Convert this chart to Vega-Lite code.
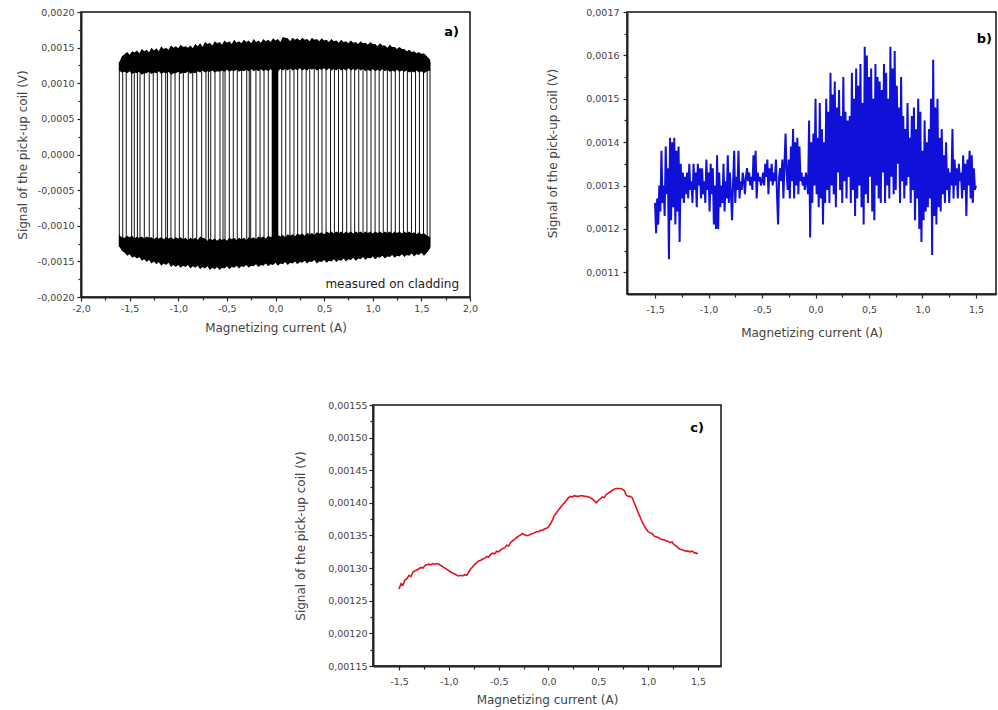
{
"$schema": "https://vega.github.io/schema/vega-lite/v6.json",
"background": "white",
"padding": {"left": 15, "top": 6, "right": 0, "bottom": 0},
"spacing": 59,
"vconcat": [
{"hconcat": [
{
"width": 389, "height": 285,
"encoding": {
"x": {"field": "x", "type": "quantitative", "title": "Magnetizing current (A)", "scale": {"domain": [-2, 2], "nice": false, "zero": false},
 "axis": {"values": [-2,-1.75,-1.5,-1.25,-1,-0.75,-0.5,-0.25,0,0.25,0.5,0.75,1,1.25,1.5,1.75,2],
  "labelExpr": "abs(datum.value*2-round(datum.value*2))<0.001 ? replace(replace(format(datum.value,'.1f'),'.',','),'\u2212','-') : ''",
  "tickSize": {"condition": {"test": "abs(datum.value*2-round(datum.value*2))<0.001", "value": 4}, "value": 3},
  "labelPadding": 2, "titlePadding": 10}},
"y": {"field": "y", "type": "quantitative", "title": "Signal of the pick-up coil (V)", "scale": {"domain": [-0.002, 0.002], "nice": false, "zero": false},
 "axis": {"values": [-0.002,-0.00175,-0.0015,-0.00125,-0.001,-0.00075,-0.0005,-0.00025,0,0.00025,0.0005,0.00075,0.001,0.00125,0.0015,0.00175,0.002],
  "labelExpr": "abs(datum.value*2000-round(datum.value*2000))<0.001 ? replace(replace(format(datum.value,'.4f'),'.',','),'\u2212','-') : ''",
  "tickSize": {"condition": {"test": "abs(datum.value*2000-round(datum.value*2000))<0.001", "value": 4}, "value": 3},
  "labelPadding": 3, "titlePadding": 8}}
},
"layer": [
{"data": {"values": [
{"x":-1.606,"y":0.0013,"y2":-0.0013},{"x":-1.571,"y":0.00125,"y2":-0.00125},{"x":-1.535,"y":0.00125,"y2":-0.00125},{"x":-1.479,"y":0.00125,"y2":-0.00125},{"x":-1.452,"y":0.00125,"y2":-0.00125},{"x":-1.42,"y":0.00125,"y2":-0.00125},{"x":-1.393,"y":0.00125,"y2":-0.00125},{"x":-1.349,"y":0.00125,"y2":-0.00125},{"x":-1.298,"y":0.00125,"y2":-0.00125},{"x":-1.257,"y":0.00125,"y2":-0.00125},{"x":-1.215,"y":0.00125,"y2":-0.00125},{"x":-1.17,"y":0.00125,"y2":-0.00125},{"x":-1.129,"y":0.00125,"y2":-0.00125},{"x":-1.11,"y":0.00125,"y2":-0.00125},{"x":-1.075,"y":0.00125,"y2":-0.00125},{"x":-1.033,"y":0.00125,"y2":-0.00125},{"x":-0.989,"y":0.00125,"y2":-0.00125},{"x":-0.948,"y":0.00125,"y2":-0.00125},{"x":-0.897,"y":0.00125,"y2":-0.00125},{"x":-0.851,"y":0.00125,"y2":-0.00125},{"x":-0.81,"y":0.00125,"y2":-0.00125},{"x":-0.759,"y":0.00125,"y2":-0.00125},{"x":-0.715,"y":0.00125,"y2":-0.00125},{"x":-0.69,"y":0.00125,"y2":-0.00125},{"x":-0.666,"y":0.00125,"y2":-0.00125},{"x":-0.622,"y":0.00125,"y2":-0.00125},{"x":-0.571,"y":0.00125,"y2":-0.00125},{"x":-0.54,"y":0.00125,"y2":-0.00125},{"x":-0.519,"y":0.00125,"y2":-0.00125},{"x":-0.475,"y":0.00125,"y2":-0.00125},{"x":-0.434,"y":0.00125,"y2":-0.00125},{"x":-0.393,"y":0.00125,"y2":-0.00125},{"x":-0.348,"y":0.00125,"y2":-0.00125},{"x":-0.296,"y":0.00125,"y2":-0.00125},{"x":-0.27,"y":0.00125,"y2":-0.00125},{"x":-0.255,"y":0.00125,"y2":-0.00125},{"x":-0.201,"y":0.00125,"y2":-0.00125},{"x":-0.159,"y":0.00125,"y2":-0.00125},{"x":-0.118,"y":0.00125,"y2":-0.00125},{"x":-0.074,"y":0.00125,"y2":-0.00125},
{"x":0.064,"y":0.00125,"y2":-0.00125},{"x":0.105,"y":0.00125,"y2":-0.00125},{"x":0.148,"y":0.00125,"y2":-0.00125},{"x":0.19,"y":0.00125,"y2":-0.00125},{"x":0.228,"y":0.00125,"y2":-0.00125},{"x":0.272,"y":0.00125,"y2":-0.00125},{"x":0.315,"y":0.00125,"y2":-0.00125},{"x":0.352,"y":0.00125,"y2":-0.00125},{"x":0.398,"y":0.00125,"y2":-0.00125},{"x":0.44,"y":0.00125,"y2":-0.00125},{"x":0.478,"y":0.00125,"y2":-0.00125},{"x":0.52,"y":0.00125,"y2":-0.00125},{"x":0.566,"y":0.00125,"y2":-0.00125},{"x":0.606,"y":0.00125,"y2":-0.00125},{"x":0.648,"y":0.00125,"y2":-0.00125},{"x":0.69,"y":0.00125,"y2":-0.00125},{"x":0.732,"y":0.00125,"y2":-0.00125},{"x":0.775,"y":0.00125,"y2":-0.00125},{"x":0.814,"y":0.00125,"y2":-0.00125},{"x":0.856,"y":0.00125,"y2":-0.00125},{"x":0.9,"y":0.00125,"y2":-0.00125},{"x":0.94,"y":0.00125,"y2":-0.00125},{"x":0.982,"y":0.00125,"y2":-0.00125},{"x":1.024,"y":0.00125,"y2":-0.00125},{"x":1.066,"y":0.00125,"y2":-0.00125},{"x":1.108,"y":0.00125,"y2":-0.00125},{"x":1.15,"y":0.00125,"y2":-0.00125},{"x":1.19,"y":0.00125,"y2":-0.00125},{"x":1.232,"y":0.00125,"y2":-0.00125},{"x":1.274,"y":0.00125,"y2":-0.00125},{"x":1.316,"y":0.00125,"y2":-0.00125},{"x":1.356,"y":0.00125,"y2":-0.00125},{"x":1.398,"y":0.00125,"y2":-0.00125},{"x":1.44,"y":0.00125,"y2":-0.00125},{"x":1.48,"y":0.00125,"y2":-0.00125},{"x":1.522,"y":0.00125,"y2":-0.00125},{"x":1.56,"y":0.00125,"y2":-0.00125},{"x":1.589,"y":0.0013,"y2":-0.0013}
]}, "mark": {"type": "rule", "color": "#111", "strokeWidth": 1}, "encoding": {"y2": {"field": "y2"}}},
{"data": {"values": [
{"band":"top","x":-1.61,"y":0.00128,"y2":0.00118},{"band":"top","x":-1.58,"y":0.00138,"y2":0.00115},{"band":"top","x":-1.55,"y":0.00141,"y2":0.00116},{"band":"top","x":-1.5,"y":0.0014,"y2":0.00117},{"band":"top","x":-1.45,"y":0.00143,"y2":0.00115},{"band":"top","x":-1.4,"y":0.00142,"y2":0.00116},{"band":"top","x":-1.35,"y":0.00145,"y2":0.00114},{"band":"top","x":-1.3,"y":0.00143,"y2":0.00116},{"band":"top","x":-1.25,"y":0.00146,"y2":0.00115},{"band":"top","x":-1.2,"y":0.00145,"y2":0.00117},{"band":"top","x":-1.15,"y":0.00148,"y2":0.00115},{"band":"top","x":-1.1,"y":0.00147,"y2":0.00116},{"band":"top","x":-1.05,"y":0.0015,"y2":0.00114},{"band":"top","x":-1.0,"y":0.00149,"y2":0.00116},{"band":"top","x":-0.95,"y":0.00151,"y2":0.00115},{"band":"top","x":-0.9,"y":0.0015,"y2":0.00117},{"band":"top","x":-0.85,"y":0.00149,"y2":0.00115},{"band":"top","x":-0.8,"y":0.00152,"y2":0.00117},{"band":"top","x":-0.75,"y":0.00151,"y2":0.00118},{"band":"top","x":-0.7,"y":0.00155,"y2":0.00117},{"band":"top","x":-0.65,"y":0.00153,"y2":0.00118},{"band":"top","x":-0.6,"y":0.00156,"y2":0.00117},{"band":"top","x":-0.55,"y":0.00154,"y2":0.00118},{"band":"top","x":-0.5,"y":0.00157,"y2":0.00119},{"band":"top","x":-0.45,"y":0.00155,"y2":0.00118},{"band":"top","x":-0.4,"y":0.00157,"y2":0.00119},{"band":"top","x":-0.35,"y":0.00156,"y2":0.00118},{"band":"top","x":-0.3,"y":0.00158,"y2":0.00119},{"band":"top","x":-0.25,"y":0.00156,"y2":0.0012},{"band":"top","x":-0.2,"y":0.00158,"y2":0.00119},{"band":"top","x":-0.15,"y":0.00157,"y2":0.0012},{"band":"top","x":-0.1,"y":0.00159,"y2":0.00119},{"band":"top","x":-0.05,"y":0.00158,"y2":0.0012},{"band":"top","x":0.0,"y":0.0016,"y2":0.00119},{"band":"top","x":0.05,"y":0.00158,"y2":0.0012},{"band":"top","x":0.1,"y":0.00164,"y2":0.0012},{"band":"top","x":0.15,"y":0.00159,"y2":0.00121},{"band":"top","x":0.2,"y":0.00161,"y2":0.0012},{"band":"top","x":0.25,"y":0.0016,"y2":0.00121},{"band":"top","x":0.3,"y":0.00161,"y2":0.0012},{"band":"top","x":0.35,"y":0.00159,"y2":0.00121},{"band":"top","x":0.4,"y":0.00161,"y2":0.00121},{"band":"top","x":0.45,"y":0.00159,"y2":0.0012},{"band":"top","x":0.5,"y":0.0016,"y2":0.00121},{"band":"top","x":0.55,"y":0.00158,"y2":0.00121},{"band":"top","x":0.6,"y":0.00159,"y2":0.0012},{"band":"top","x":0.65,"y":0.00157,"y2":0.00121},{"band":"top","x":0.7,"y":0.00158,"y2":0.0012},{"band":"top","x":0.75,"y":0.00156,"y2":0.00121},{"band":"top","x":0.8,"y":0.00157,"y2":0.0012},{"band":"top","x":0.85,"y":0.00155,"y2":0.00121},{"band":"top","x":0.9,"y":0.00156,"y2":0.0012},{"band":"top","x":0.95,"y":0.00154,"y2":0.00119},{"band":"top","x":1.0,"y":0.00155,"y2":0.0012},{"band":"top","x":1.05,"y":0.00152,"y2":0.00119},{"band":"top","x":1.1,"y":0.00153,"y2":0.0012},{"band":"top","x":1.15,"y":0.0015,"y2":0.00119},{"band":"top","x":1.2,"y":0.00151,"y2":0.00118},{"band":"top","x":1.25,"y":0.00148,"y2":0.00119},{"band":"top","x":1.3,"y":0.00148,"y2":0.00118},{"band":"top","x":1.35,"y":0.00145,"y2":0.00118},{"band":"top","x":1.4,"y":0.00144,"y2":0.00117},{"band":"top","x":1.45,"y":0.00142,"y2":0.00118},{"band":"top","x":1.5,"y":0.00141,"y2":0.00117},{"band":"top","x":1.55,"y":0.00139,"y2":0.00116},{"band":"top","x":1.59,"y":0.00133,"y2":0.00118},
{"band":"top","x":-1.525,"y":0.00144,"y2":0.00114},{"band":"top","x":-1.475,"y":0.00145,"y2":0.00113},{"band":"top","x":-1.425,"y":0.00146,"y2":0.00114},{"band":"top","x":-1.375,"y":0.00148,"y2":0.00112},{"band":"top","x":-1.325,"y":0.00147,"y2":0.00114},{"band":"top","x":-1.275,"y":0.0015,"y2":0.00113},{"band":"top","x":-1.225,"y":0.00149,"y2":0.00114},{"band":"top","x":-1.175,"y":0.00152,"y2":0.00113},{"band":"top","x":-1.125,"y":0.0015,"y2":0.00114},{"band":"top","x":-1.075,"y":0.00153,"y2":0.00112},{"band":"top","x":-1.025,"y":0.00152,"y2":0.00114},{"band":"top","x":-0.975,"y":0.00154,"y2":0.00113},{"band":"top","x":-0.925,"y":0.00152,"y2":0.00114},{"band":"top","x":-0.875,"y":0.00153,"y2":0.00113},{"band":"top","x":-0.825,"y":0.00155,"y2":0.00114},{"band":"top","x":-0.775,"y":0.00156,"y2":0.00115},{"band":"top","x":-0.725,"y":0.00158,"y2":0.00115},{"band":"top","x":-0.675,"y":0.00157,"y2":0.00116},{"band":"top","x":-0.625,"y":0.00159,"y2":0.00115},{"band":"top","x":-0.575,"y":0.00158,"y2":0.00116},{"band":"top","x":-0.525,"y":0.0016,"y2":0.00116},{"band":"top","x":-0.475,"y":0.00159,"y2":0.00116},{"band":"top","x":-0.425,"y":0.00161,"y2":0.00117},{"band":"top","x":-0.375,"y":0.00159,"y2":0.00116},{"band":"top","x":-0.325,"y":0.00161,"y2":0.00117},{"band":"top","x":-0.275,"y":0.0016,"y2":0.00117},{"band":"top","x":-0.225,"y":0.00162,"y2":0.00117},{"band":"top","x":-0.175,"y":0.0016,"y2":0.00117},{"band":"top","x":-0.125,"y":0.00162,"y2":0.00117},{"band":"top","x":-0.075,"y":0.00161,"y2":0.00117},{"band":"top","x":-0.025,"y":0.00163,"y2":0.00117},{"band":"top","x":0.025,"y":0.00162,"y2":0.00117},{"band":"top","x":0.075,"y":0.00165,"y2":0.00118},{"band":"top","x":0.125,"y":0.00163,"y2":0.00118},{"band":"top","x":0.175,"y":0.00164,"y2":0.00118},{"band":"top","x":0.225,"y":0.00163,"y2":0.00118},{"band":"top","x":0.275,"y":0.00164,"y2":0.00118},{"band":"top","x":0.325,"y":0.00162,"y2":0.00118},{"band":"top","x":0.375,"y":0.00164,"y2":0.00119},{"band":"top","x":0.425,"y":0.00162,"y2":0.00118},{"band":"top","x":0.475,"y":0.00163,"y2":0.00119},{"band":"top","x":0.525,"y":0.00161,"y2":0.00118},{"band":"top","x":0.575,"y":0.00162,"y2":0.00118},{"band":"top","x":0.625,"y":0.0016,"y2":0.00118},{"band":"top","x":0.675,"y":0.00161,"y2":0.00118},{"band":"top","x":0.725,"y":0.00159,"y2":0.00118},{"band":"top","x":0.775,"y":0.0016,"y2":0.00118},{"band":"top","x":0.825,"y":0.00158,"y2":0.00118},{"band":"top","x":0.875,"y":0.00159,"y2":0.00118},{"band":"top","x":0.925,"y":0.00157,"y2":0.00117},{"band":"top","x":0.975,"y":0.00158,"y2":0.00117},{"band":"top","x":1.025,"y":0.00155,"y2":0.00117},{"band":"top","x":1.075,"y":0.00156,"y2":0.00117},{"band":"top","x":1.125,"y":0.00153,"y2":0.00117},{"band":"top","x":1.175,"y":0.00154,"y2":0.00116},{"band":"top","x":1.225,"y":0.00151,"y2":0.00116},{"band":"top","x":1.275,"y":0.00151,"y2":0.00116},{"band":"top","x":1.325,"y":0.00148,"y2":0.00116},{"band":"top","x":1.375,"y":0.00147,"y2":0.00115},{"band":"top","x":1.425,"y":0.00145,"y2":0.00115},{"band":"top","x":1.475,"y":0.00144,"y2":0.00115},{"band":"top","x":1.525,"y":0.00142,"y2":0.00114},
{"band":"bot","x":-1.61,"y":-0.00113,"y2":-0.00128},{"band":"bot","x":-1.58,"y":-0.00116,"y2":-0.00135},{"band":"bot","x":-1.55,"y":-0.00117,"y2":-0.00138},{"band":"bot","x":-1.5,"y":-0.00116,"y2":-0.0014},{"band":"bot","x":-1.45,"y":-0.00118,"y2":-0.00143},{"band":"bot","x":-1.4,"y":-0.00117,"y2":-0.00144},{"band":"bot","x":-1.35,"y":-0.00118,"y2":-0.00147},{"band":"bot","x":-1.3,"y":-0.00117,"y2":-0.00148},{"band":"bot","x":-1.25,"y":-0.00119,"y2":-0.0015},{"band":"bot","x":-1.2,"y":-0.00118,"y2":-0.00151},{"band":"bot","x":-1.15,"y":-0.00119,"y2":-0.00153},{"band":"bot","x":-1.1,"y":-0.00118,"y2":-0.00152},{"band":"bot","x":-1.05,"y":-0.00119,"y2":-0.00155},{"band":"bot","x":-1.0,"y":-0.00118,"y2":-0.00155},{"band":"bot","x":-0.95,"y":-0.00119,"y2":-0.00156},{"band":"bot","x":-0.9,"y":-0.0012,"y2":-0.00155},{"band":"bot","x":-0.85,"y":-0.00119,"y2":-0.00157},{"band":"bot","x":-0.8,"y":-0.0012,"y2":-0.00156},{"band":"bot","x":-0.75,"y":-0.00117,"y2":-0.00158},{"band":"bot","x":-0.7,"y":-0.00121,"y2":-0.00157},{"band":"bot","x":-0.65,"y":-0.0012,"y2":-0.00159},{"band":"bot","x":-0.6,"y":-0.00121,"y2":-0.00158},{"band":"bot","x":-0.55,"y":-0.0012,"y2":-0.00159},{"band":"bot","x":-0.5,"y":-0.00121,"y2":-0.00157},{"band":"bot","x":-0.45,"y":-0.00119,"y2":-0.00158},{"band":"bot","x":-0.4,"y":-0.0012,"y2":-0.00156},{"band":"bot","x":-0.35,"y":-0.00119,"y2":-0.00157},{"band":"bot","x":-0.3,"y":-0.0012,"y2":-0.00155},{"band":"bot","x":-0.25,"y":-0.00118,"y2":-0.00156},{"band":"bot","x":-0.2,"y":-0.00119,"y2":-0.00154},{"band":"bot","x":-0.15,"y":-0.00117,"y2":-0.00155},{"band":"bot","x":-0.1,"y":-0.00118,"y2":-0.00153},{"band":"bot","x":-0.05,"y":-0.00116,"y2":-0.00154},{"band":"bot","x":0.0,"y":-0.00117,"y2":-0.00152},{"band":"bot","x":0.05,"y":-0.00115,"y2":-0.00153},{"band":"bot","x":0.1,"y":-0.00116,"y2":-0.00151},{"band":"bot","x":0.15,"y":-0.00114,"y2":-0.00152},{"band":"bot","x":0.2,"y":-0.00115,"y2":-0.0015},{"band":"bot","x":0.25,"y":-0.00113,"y2":-0.00151},{"band":"bot","x":0.3,"y":-0.00114,"y2":-0.00149},{"band":"bot","x":0.35,"y":-0.00112,"y2":-0.0015},{"band":"bot","x":0.4,"y":-0.00113,"y2":-0.00148},{"band":"bot","x":0.45,"y":-0.00111,"y2":-0.0015},{"band":"bot","x":0.5,"y":-0.00112,"y2":-0.00148},{"band":"bot","x":0.55,"y":-0.0011,"y2":-0.00149},{"band":"bot","x":0.6,"y":-0.00111,"y2":-0.00147},{"band":"bot","x":0.65,"y":-0.0011,"y2":-0.00148},{"band":"bot","x":0.7,"y":-0.00111,"y2":-0.00146},{"band":"bot","x":0.75,"y":-0.0011,"y2":-0.00147},{"band":"bot","x":0.8,"y":-0.00111,"y2":-0.00145},{"band":"bot","x":0.85,"y":-0.0011,"y2":-0.00146},{"band":"bot","x":0.9,"y":-0.00111,"y2":-0.00144},{"band":"bot","x":0.95,"y":-0.0011,"y2":-0.00145},{"band":"bot","x":1.0,"y":-0.00111,"y2":-0.00143},{"band":"bot","x":1.05,"y":-0.0011,"y2":-0.00144},{"band":"bot","x":1.1,"y":-0.00111,"y2":-0.00142},{"band":"bot","x":1.15,"y":-0.0011,"y2":-0.00143},{"band":"bot","x":1.2,"y":-0.00111,"y2":-0.00141},{"band":"bot","x":1.25,"y":-0.0011,"y2":-0.00142},{"band":"bot","x":1.3,"y":-0.00111,"y2":-0.0014},{"band":"bot","x":1.35,"y":-0.0011,"y2":-0.00141},{"band":"bot","x":1.4,"y":-0.00111,"y2":-0.00139},{"band":"bot","x":1.45,"y":-0.00112,"y2":-0.0014},{"band":"bot","x":1.5,"y":-0.00112,"y2":-0.00138},{"band":"bot","x":1.55,"y":-0.00113,"y2":-0.00139},{"band":"bot","x":1.59,"y":-0.00116,"y2":-0.00132},
{"band":"bot","x":-1.525,"y":-0.00114,"y2":-0.00142},{"band":"bot","x":-1.475,"y":-0.00114,"y2":-0.00145},{"band":"bot","x":-1.425,"y":-0.00115,"y2":-0.00146},{"band":"bot","x":-1.375,"y":-0.00115,"y2":-0.00149},{"band":"bot","x":-1.325,"y":-0.00115,"y2":-0.00151},{"band":"bot","x":-1.275,"y":-0.00116,"y2":-0.00153},{"band":"bot","x":-1.225,"y":-0.00116,"y2":-0.00154},{"band":"bot","x":-1.175,"y":-0.00116,"y2":-0.00156},{"band":"bot","x":-1.125,"y":-0.00116,"y2":-0.00155},{"band":"bot","x":-1.075,"y":-0.00116,"y2":-0.00158},{"band":"bot","x":-1.025,"y":-0.00116,"y2":-0.00158},{"band":"bot","x":-0.975,"y":-0.00116,"y2":-0.00159},{"band":"bot","x":-0.925,"y":-0.00117,"y2":-0.00158},{"band":"bot","x":-0.875,"y":-0.00117,"y2":-0.0016},{"band":"bot","x":-0.825,"y":-0.00117,"y2":-0.00159},{"band":"bot","x":-0.775,"y":-0.00115,"y2":-0.00161},{"band":"bot","x":-0.725,"y":-0.00118,"y2":-0.0016},{"band":"bot","x":-0.675,"y":-0.00118,"y2":-0.00162},{"band":"bot","x":-0.625,"y":-0.00118,"y2":-0.00161},{"band":"bot","x":-0.575,"y":-0.00118,"y2":-0.00162},{"band":"bot","x":-0.525,"y":-0.00118,"y2":-0.0016},{"band":"bot","x":-0.475,"y":-0.00117,"y2":-0.00161},{"band":"bot","x":-0.425,"y":-0.00117,"y2":-0.00159},{"band":"bot","x":-0.375,"y":-0.00117,"y2":-0.0016},{"band":"bot","x":-0.325,"y":-0.00117,"y2":-0.00158},{"band":"bot","x":-0.275,"y":-0.00116,"y2":-0.00159},{"band":"bot","x":-0.225,"y":-0.00116,"y2":-0.00157},{"band":"bot","x":-0.175,"y":-0.00115,"y2":-0.00158},{"band":"bot","x":-0.125,"y":-0.00115,"y2":-0.00156},{"band":"bot","x":-0.075,"y":-0.00114,"y2":-0.00157},{"band":"bot","x":-0.025,"y":-0.00114,"y2":-0.00155},{"band":"bot","x":0.025,"y":-0.00113,"y2":-0.00156},{"band":"bot","x":0.075,"y":-0.00113,"y2":-0.00154},{"band":"bot","x":0.125,"y":-0.00112,"y2":-0.00155},{"band":"bot","x":0.175,"y":-0.00112,"y2":-0.00153},{"band":"bot","x":0.225,"y":-0.00111,"y2":-0.00154},{"band":"bot","x":0.275,"y":-0.00111,"y2":-0.00152},{"band":"bot","x":0.325,"y":-0.0011,"y2":-0.00153},{"band":"bot","x":0.375,"y":-0.0011,"y2":-0.00151},{"band":"bot","x":0.425,"y":-0.00109,"y2":-0.00153},{"band":"bot","x":0.475,"y":-0.00109,"y2":-0.00151},{"band":"bot","x":0.525,"y":-0.00108,"y2":-0.00152},{"band":"bot","x":0.575,"y":-0.00108,"y2":-0.0015},{"band":"bot","x":0.625,"y":-0.00108,"y2":-0.00151},{"band":"bot","x":0.675,"y":-0.00108,"y2":-0.00149},{"band":"bot","x":0.725,"y":-0.00108,"y2":-0.0015},{"band":"bot","x":0.775,"y":-0.00108,"y2":-0.00148},{"band":"bot","x":0.825,"y":-0.00108,"y2":-0.00149},{"band":"bot","x":0.875,"y":-0.00108,"y2":-0.00147},{"band":"bot","x":0.925,"y":-0.00108,"y2":-0.00148},{"band":"bot","x":0.975,"y":-0.00108,"y2":-0.00146},{"band":"bot","x":1.025,"y":-0.00108,"y2":-0.00147},{"band":"bot","x":1.075,"y":-0.00108,"y2":-0.00145},{"band":"bot","x":1.125,"y":-0.00108,"y2":-0.00146},{"band":"bot","x":1.175,"y":-0.00108,"y2":-0.00144},{"band":"bot","x":1.225,"y":-0.00108,"y2":-0.00145},{"band":"bot","x":1.275,"y":-0.00108,"y2":-0.00143},{"band":"bot","x":1.325,"y":-0.00108,"y2":-0.00144},{"band":"bot","x":1.375,"y":-0.00108,"y2":-0.00142},{"band":"bot","x":1.425,"y":-0.00109,"y2":-0.00143},{"band":"bot","x":1.475,"y":-0.00109,"y2":-0.00141},{"band":"bot","x":1.525,"y":-0.0011,"y2":-0.00142}
]}, "mark": {"type": "area", "color": "#000", "opacity": 1}, "encoding": {"y2": {"field": "y2"}, "detail": {"field": "band"}}},
{"data": {"values": [{"x": -0.039, "x2": 0.029, "y": 0.0012, "y2": -0.0012}]}, "mark": {"type": "rect", "color": "#000"}, "encoding": {"x2": {"field": "x2"}, "y2": {"field": "y2"}}},
{"data": {"values": [{"x": 1.887, "y": 0.00172, "label": "a)"}]}, "mark": {"type": "text", "align": "right", "baseline": "middle", "fontWeight": "bold", "fontSize": 13, "color": "#000"}, "encoding": {"text": {"field": "label"}}},
{"data": {"values": [{"x": 1.887, "y": -0.00182, "label": "measured on cladding"}]}, "mark": {"type": "text", "align": "right", "baseline": "middle", "fontSize": 12, "color": "#222"}, "encoding": {"text": {"field": "label"}}}
]
},
{
"width": 369, "height": 282,
"encoding": {
"x": {"field": "x", "type": "quantitative", "title": "Magnetizing current (A)", "scale": {"domain": [-1.762, 1.687], "nice": false, "zero": false},
 "axis": {"values": [-1.5,-1.25,-1,-0.75,-0.5,-0.25,0,0.25,0.5,0.75,1,1.25,1.5],
  "labelExpr": "abs(datum.value*2-round(datum.value*2))<0.001 ? replace(replace(format(datum.value,'.1f'),'.',','),'\u2212','-') : ''",
  "tickSize": {"condition": {"test": "abs(datum.value*2-round(datum.value*2))<0.001", "value": 4}, "value": 3},
  "labelPadding": 6, "titlePadding": 14}},
"y": {"field": "y", "type": "quantitative", "title": "Signal of the pick-up coil (V)", "scale": {"domain": [0.00105, 0.0017], "nice": false, "zero": false},
 "axis": {"values": [0.0011,0.00115,0.0012,0.00125,0.0013,0.00135,0.0014,0.00145,0.0015,0.00155,0.0016,0.00165,0.0017],
  "labelExpr": "abs(datum.value*10000-round(datum.value*10000))<0.001 ? replace(format(datum.value,'.4f'),'.',',') : ''",
  "tickSize": {"condition": {"test": "abs(datum.value*10000-round(datum.value*10000))<0.001", "value": 4}, "value": 3},
  "labelPadding": 4, "titlePadding": 26}}
},
"layer": [
{"data": {"values": [
{"x":-1.5,"y":0.00126},{"x":-1.49,"y":0.00119},{"x":-1.48,"y":0.00127},{"x":-1.47,"y":0.00121},{"x":-1.46,"y":0.0013},{"x":-1.45,"y":0.00124},{"x":-1.44,"y":0.00138},{"x":-1.43,"y":0.00126},{"x":-1.42,"y":0.0013},{"x":-1.41,"y":0.00123},{"x":-1.4,"y":0.00139},{"x":-1.39,"y":0.00128},{"x":-1.38,"y":0.00134},{"x":-1.37,"y":0.00113},{"x":-1.36,"y":0.00141},{"x":-1.35,"y":0.00122},{"x":-1.34,"y":0.0014},{"x":-1.33,"y":0.00125},{"x":-1.32,"y":0.00141},{"x":-1.31,"y":0.00121},{"x":-1.3,"y":0.00138},{"x":-1.29,"y":0.00124},{"x":-1.28,"y":0.00139},{"x":-1.27,"y":0.00117},{"x":-1.26,"y":0.00135},{"x":-1.25,"y":0.00127},{"x":-1.24,"y":0.00133},{"x":-1.23,"y":0.00126},{"x":-1.22,"y":0.00132},{"x":-1.21,"y":0.00128},{"x":-1.2,"y":0.00133},{"x":-1.19,"y":0.00127},{"x":-1.18,"y":0.00135},{"x":-1.17,"y":0.00129},{"x":-1.16,"y":0.00131},{"x":-1.15,"y":0.00126},{"x":-1.14,"y":0.00135},{"x":-1.13,"y":0.00129},{"x":-1.12,"y":0.00133},{"x":-1.11,"y":0.00125},{"x":-1.1,"y":0.00135},{"x":-1.09,"y":0.0013},{"x":-1.08,"y":0.00134},{"x":-1.07,"y":0.00127},{"x":-1.06,"y":0.00134},{"x":-1.05,"y":0.00128},{"x":-1.04,"y":0.00131},{"x":-1.03,"y":0.00126},{"x":-1.02,"y":0.00136},{"x":-1.01,"y":0.00129},{"x":-1.0,"y":0.00133},{"x":-0.99,"y":0.00124},{"x":-0.98,"y":0.00135},{"x":-0.97,"y":0.00128},{"x":-0.96,"y":0.00134},{"x":-0.95,"y":0.00121},{"x":-0.94,"y":0.0013},{"x":-0.93,"y":0.0012},{"x":-0.92,"y":0.00137},{"x":-0.91,"y":0.0012},{"x":-0.9,"y":0.00133},{"x":-0.89,"y":0.00125},{"x":-0.88,"y":0.0013},{"x":-0.87,"y":0.00126},{"x":-0.86,"y":0.00135},{"x":-0.85,"y":0.00124},{"x":-0.84,"y":0.00131},{"x":-0.83,"y":0.00127},{"x":-0.82,"y":0.00137},{"x":-0.81,"y":0.00126},{"x":-0.8,"y":0.00133},{"x":-0.79,"y":0.00128},{"x":-0.78,"y":0.00122},{"x":-0.77,"y":0.00131},{"x":-0.76,"y":0.00138},{"x":-0.75,"y":0.00126},{"x":-0.74,"y":0.00132},{"x":-0.73,"y":0.00129},{"x":-0.72,"y":0.00138},{"x":-0.71,"y":0.00127},{"x":-0.7,"y":0.00131},{"x":-0.69,"y":0.00129},{"x":-0.68,"y":0.00133},{"x":-0.67,"y":0.00131},{"x":-0.66,"y":0.00128},{"x":-0.65,"y":0.00132},{"x":-0.64,"y":0.00134},{"x":-0.63,"y":0.00131},{"x":-0.62,"y":0.00133},{"x":-0.61,"y":0.0013},{"x":-0.6,"y":0.00132},{"x":-0.59,"y":0.00129},{"x":-0.58,"y":0.00137},{"x":-0.57,"y":0.00131},{"x":-0.56,"y":0.00138},{"x":-0.55,"y":0.00127},{"x":-0.54,"y":0.00133},{"x":-0.53,"y":0.00131},{"x":-0.52,"y":0.00132},{"x":-0.51,"y":0.0013},{"x":-0.5,"y":0.00131},{"x":-0.49,"y":0.00133},{"x":-0.48,"y":0.0013},{"x":-0.47,"y":0.00135},{"x":-0.46,"y":0.00132},{"x":-0.45,"y":0.00136},{"x":-0.44,"y":0.00128},{"x":-0.43,"y":0.00134},{"x":-0.42,"y":0.00131},{"x":-0.41,"y":0.00135},{"x":-0.4,"y":0.0013},{"x":-0.39,"y":0.00133},{"x":-0.38,"y":0.00131},{"x":-0.37,"y":0.00136},{"x":-0.36,"y":0.00128},{"x":-0.35,"y":0.00121},{"x":-0.34,"y":0.00132},{"x":-0.33,"y":0.00134},{"x":-0.32,"y":0.00131},{"x":-0.31,"y":0.00136},{"x":-0.3,"y":0.00127},{"x":-0.29,"y":0.00135},{"x":-0.28,"y":0.00142},{"x":-0.27,"y":0.00133},{"x":-0.26,"y":0.00129},{"x":-0.25,"y":0.00136},{"x":-0.24,"y":0.00127},{"x":-0.23,"y":0.00139},{"x":-0.22,"y":0.00131},{"x":-0.21,"y":0.00143},{"x":-0.2,"y":0.00127},{"x":-0.19,"y":0.0014},{"x":-0.18,"y":0.0013},{"x":-0.17,"y":0.00141},{"x":-0.16,"y":0.00128},{"x":-0.15,"y":0.00139},{"x":-0.14,"y":0.00131},{"x":-0.13,"y":0.00133},{"x":-0.12,"y":0.0013},{"x":-0.11,"y":0.00132},{"x":-0.1,"y":0.00129},{"x":-0.09,"y":0.00133},{"x":-0.08,"y":0.00131},{"x":-0.07,"y":0.00128},{"x":-0.06,"y":0.00145},{"x":-0.05,"y":0.00118},{"x":-0.04,"y":0.0014},{"x":-0.03,"y":0.00126},{"x":-0.02,"y":0.00142},{"x":-0.01,"y":0.0013},
{"x":0.0,"y":0.0015},{"x":0.01,"y":0.00128},{"x":0.02,"y":0.00141},{"x":0.03,"y":0.00125},{"x":0.04,"y":0.00149},{"x":0.05,"y":0.00127},{"x":0.06,"y":0.00143},{"x":0.07,"y":0.00121},{"x":0.08,"y":0.0014},{"x":0.09,"y":0.00126},{"x":0.1,"y":0.0015},{"x":0.11,"y":0.00129},{"x":0.12,"y":0.00147},{"x":0.13,"y":0.00126},{"x":0.14,"y":0.00156},{"x":0.15,"y":0.0013},{"x":0.16,"y":0.00151},{"x":0.17,"y":0.00128},{"x":0.18,"y":0.00154},{"x":0.19,"y":0.00125},{"x":0.2,"y":0.00148},{"x":0.21,"y":0.00133},{"x":0.22,"y":0.00152},{"x":0.23,"y":0.00129},{"x":0.24,"y":0.00146},{"x":0.25,"y":0.00126},{"x":0.26,"y":0.00155},{"x":0.27,"y":0.00131},{"x":0.28,"y":0.00147},{"x":0.29,"y":0.00127},{"x":0.3,"y":0.00145},{"x":0.31,"y":0.00132},{"x":0.32,"y":0.00146},{"x":0.33,"y":0.00126},{"x":0.34,"y":0.00156},{"x":0.35,"y":0.00129},{"x":0.36,"y":0.0015},{"x":0.37,"y":0.00123},{"x":0.38,"y":0.00157},{"x":0.39,"y":0.00127},{"x":0.4,"y":0.00153},{"x":0.41,"y":0.0013},{"x":0.42,"y":0.00158},{"x":0.43,"y":0.00125},{"x":0.44,"y":0.00149},{"x":0.45,"y":0.00121},{"x":0.46,"y":0.00162},{"x":0.47,"y":0.00128},{"x":0.48,"y":0.0016},{"x":0.49,"y":0.00126},{"x":0.5,"y":0.00155},{"x":0.51,"y":0.00132},{"x":0.52,"y":0.00157},{"x":0.53,"y":0.00124},{"x":0.54,"y":0.0015},{"x":0.55,"y":0.00122},{"x":0.56,"y":0.00158},{"x":0.57,"y":0.0013},{"x":0.58,"y":0.00155},{"x":0.59,"y":0.00127},{"x":0.6,"y":0.00154},{"x":0.61,"y":0.00126},{"x":0.62,"y":0.00152},{"x":0.63,"y":0.00133},{"x":0.64,"y":0.00158},{"x":0.65,"y":0.00126},{"x":0.66,"y":0.00156},{"x":0.67,"y":0.0013},{"x":0.68,"y":0.0015},{"x":0.69,"y":0.00127},{"x":0.7,"y":0.00162},{"x":0.71,"y":0.00132},{"x":0.72,"y":0.00157},{"x":0.73,"y":0.00128},{"x":0.74,"y":0.00161},{"x":0.75,"y":0.00129},{"x":0.76,"y":0.00153},{"x":0.77,"y":0.00135},{"x":0.78,"y":0.00148},{"x":0.79,"y":0.00126},{"x":0.8,"y":0.00155},{"x":0.81,"y":0.00131},{"x":0.82,"y":0.00146},{"x":0.83,"y":0.00127},{"x":0.84,"y":0.00143},{"x":0.85,"y":0.0013},{"x":0.86,"y":0.00149},{"x":0.87,"y":0.00132},{"x":0.88,"y":0.00141},{"x":0.89,"y":0.00126},{"x":0.9,"y":0.00146},{"x":0.91,"y":0.00129},{"x":0.92,"y":0.00148},{"x":0.93,"y":0.00122},{"x":0.94,"y":0.00143},{"x":0.95,"y":0.00127},{"x":0.96,"y":0.0015},{"x":0.97,"y":0.0012},{"x":0.98,"y":0.00147},{"x":0.99,"y":0.00117},{"x":1.0,"y":0.00138},{"x":1.01,"y":0.00122},{"x":1.02,"y":0.00145},{"x":1.03,"y":0.00124},{"x":1.04,"y":0.0014},{"x":1.05,"y":0.00125},{"x":1.06,"y":0.00143},{"x":1.07,"y":0.00127},{"x":1.08,"y":0.0015},{"x":1.09,"y":0.00114},{"x":1.1,"y":0.00159},{"x":1.11,"y":0.00123},{"x":1.12,"y":0.00148},{"x":1.13,"y":0.00121},{"x":1.14,"y":0.0015},{"x":1.15,"y":0.00125},{"x":1.16,"y":0.00141},{"x":1.17,"y":0.00124},{"x":1.18,"y":0.00143},{"x":1.19,"y":0.00128},{"x":1.2,"y":0.00137},{"x":1.21,"y":0.00126},{"x":1.22,"y":0.0014},{"x":1.23,"y":0.00129},{"x":1.24,"y":0.00134},{"x":1.25,"y":0.00126},{"x":1.26,"y":0.00133},{"x":1.27,"y":0.0013},{"x":1.28,"y":0.00143},{"x":1.29,"y":0.00127},{"x":1.3,"y":0.00136},{"x":1.31,"y":0.0013},{"x":1.32,"y":0.00134},{"x":1.33,"y":0.00127},{"x":1.34,"y":0.00135},{"x":1.35,"y":0.00131},{"x":1.36,"y":0.00133},{"x":1.37,"y":0.00127},{"x":1.38,"y":0.00137},{"x":1.39,"y":0.00129},{"x":1.4,"y":0.00135},{"x":1.41,"y":0.00123},{"x":1.42,"y":0.00136},{"x":1.43,"y":0.0013},{"x":1.44,"y":0.00138},{"x":1.45,"y":0.00127},{"x":1.46,"y":0.00137},{"x":1.47,"y":0.00126},{"x":1.48,"y":0.00134},{"x":1.49,"y":0.00129},{"x":1.5,"y":0.0013}
]}, "mark": {"type": "line", "color": "#1010d8", "strokeWidth": 2}},
{"data": {"values": [{"x": 1.65, "y": 0.001637, "label": "b)"}]}, "mark": {"type": "text", "align": "right", "baseline": "middle", "fontWeight": "bold", "fontSize": 13, "color": "#000"}, "encoding": {"text": {"field": "label"}}}
]
}
], "spacing": 67},
{"hconcat": [
{"width": 212, "height": 10, "view": {"stroke": null}, "data": {"values": []}, "mark": {"type": "point", "opacity": 0}},
{
"width": 348, "height": 261,
"encoding": {
"x": {"field": "x", "type": "quantitative", "title": "Magnetizing current (A)", "scale": {"domain": [-1.761, 1.731], "nice": false, "zero": false},
 "axis": {"values": [-1.5,-1.25,-1,-0.75,-0.5,-0.25,0,0.25,0.5,0.75,1,1.25,1.5],
  "labelExpr": "abs(datum.value*2-round(datum.value*2))<0.001 ? replace(replace(format(datum.value,'.1f'),'.',','),'\u2212','-') : ''",
  "tickSize": {"condition": {"test": "abs(datum.value*2-round(datum.value*2))<0.001", "value": 4}, "value": 3},
  "labelPadding": 6, "titlePadding": 9}},
"y": {"field": "y", "type": "quantitative", "title": "Signal of the pick-up coil (V)", "scale": {"domain": [0.00115, 0.00155], "nice": false, "zero": false},
 "axis": {"values": [0.00115,0.001175,0.0012,0.001225,0.00125,0.001275,0.0013,0.001325,0.00135,0.001375,0.0014,0.001425,0.00145,0.001475,0.0015,0.001525,0.00155],
  "labelExpr": "abs(datum.value*20000-round(datum.value*20000))<0.001 ? replace(format(datum.value,'.5f'),'.',',') : ''",
  "tickSize": {"condition": {"test": "abs(datum.value*20000-round(datum.value*20000))<0.001", "value": 4}, "value": 3},
  "labelPadding": 2, "titlePadding": 20}}
},
"layer": [
{"data": {"values": [
{"x":-1.5,"y":0.001268},{"x":-1.48,"y":0.001276},{"x":-1.46,"y":0.001274},{"x":-1.44,"y":0.001282},{"x":-1.42,"y":0.001284},{"x":-1.4,"y":0.001289},{"x":-1.38,"y":0.001287},{"x":-1.36,"y":0.001294},{"x":-1.34,"y":0.001296},{"x":-1.32,"y":0.001297},{"x":-1.3,"y":0.001299},{"x":-1.28,"y":0.001301},{"x":-1.26,"y":0.0013},{"x":-1.24,"y":0.001304},{"x":-1.22,"y":0.001305},{"x":-1.2,"y":0.001306},{"x":-1.18,"y":0.001305},{"x":-1.16,"y":0.001307},{"x":-1.14,"y":0.001306},{"x":-1.12,"y":0.001307},{"x":-1.1,"y":0.001306},{"x":-1.08,"y":0.001304},{"x":-1.06,"y":0.001302},{"x":-1.04,"y":0.0013},{"x":-1.02,"y":0.001298},{"x":-1.0,"y":0.001296},{"x":-0.98,"y":0.001294},{"x":-0.96,"y":0.001292},{"x":-0.94,"y":0.001291},{"x":-0.92,"y":0.001289},{"x":-0.9,"y":0.001288},{"x":-0.88,"y":0.001289},{"x":-0.86,"y":0.001288},{"x":-0.84,"y":0.00129},{"x":-0.82,"y":0.001289},{"x":-0.8,"y":0.001294},{"x":-0.78,"y":0.001299},{"x":-0.76,"y":0.001302},{"x":-0.74,"y":0.001306},{"x":-0.72,"y":0.001308},{"x":-0.7,"y":0.001311},{"x":-0.68,"y":0.001312},{"x":-0.66,"y":0.001314},{"x":-0.64,"y":0.001315},{"x":-0.62,"y":0.001318},{"x":-0.6,"y":0.001317},{"x":-0.58,"y":0.001321},{"x":-0.56,"y":0.001323},{"x":-0.54,"y":0.001322},{"x":-0.52,"y":0.001326},{"x":-0.5,"y":0.001325},{"x":-0.48,"y":0.001328},{"x":-0.46,"y":0.00133},{"x":-0.44,"y":0.001331},{"x":-0.42,"y":0.001335},{"x":-0.4,"y":0.001334},{"x":-0.38,"y":0.001339},{"x":-0.36,"y":0.001342},{"x":-0.34,"y":0.001344},{"x":-0.32,"y":0.001347},{"x":-0.3,"y":0.001349},{"x":-0.28,"y":0.001351},{"x":-0.26,"y":0.001353},{"x":-0.24,"y":0.001351},{"x":-0.22,"y":0.00135},{"x":-0.2,"y":0.00135},{"x":-0.18,"y":0.001352},{"x":-0.16,"y":0.001353},{"x":-0.14,"y":0.001354},{"x":-0.12,"y":0.001356},{"x":-0.1,"y":0.001356},{"x":-0.08,"y":0.001358},{"x":-0.06,"y":0.001358},{"x":-0.04,"y":0.00136},{"x":-0.02,"y":0.001361},{"x":0.0,"y":0.001363},{"x":0.02,"y":0.001368},{"x":0.04,"y":0.001374},{"x":0.06,"y":0.001381},{"x":0.08,"y":0.001385},{"x":0.1,"y":0.001389},{"x":0.12,"y":0.001393},{"x":0.14,"y":0.001397},{"x":0.16,"y":0.0014},{"x":0.18,"y":0.001404},{"x":0.2,"y":0.001408},{"x":0.22,"y":0.00141},{"x":0.24,"y":0.001409},{"x":0.26,"y":0.001411},{"x":0.28,"y":0.00141},{"x":0.3,"y":0.00141},{"x":0.32,"y":0.001411},{"x":0.34,"y":0.001411},{"x":0.36,"y":0.00141},{"x":0.38,"y":0.00141},{"x":0.4,"y":0.001409},{"x":0.42,"y":0.001408},{"x":0.44,"y":0.001406},{"x":0.46,"y":0.001403},{"x":0.48,"y":0.0014},{"x":0.5,"y":0.001404},{"x":0.52,"y":0.001406},{"x":0.54,"y":0.001409},{"x":0.56,"y":0.001408},{"x":0.58,"y":0.001413},{"x":0.6,"y":0.001415},{"x":0.62,"y":0.001417},{"x":0.64,"y":0.001419},{"x":0.66,"y":0.001421},{"x":0.68,"y":0.001422},{"x":0.7,"y":0.001422},{"x":0.72,"y":0.001422},{"x":0.74,"y":0.001421},{"x":0.76,"y":0.001419},{"x":0.78,"y":0.001412},{"x":0.8,"y":0.00141},{"x":0.82,"y":0.00141},{"x":0.84,"y":0.001408},{"x":0.86,"y":0.0014},{"x":0.88,"y":0.001393},{"x":0.9,"y":0.001385},{"x":0.92,"y":0.001378},{"x":0.94,"y":0.001371},{"x":0.96,"y":0.001365},{"x":0.98,"y":0.00136},{"x":1.0,"y":0.001356},{"x":1.02,"y":0.001354},{"x":1.04,"y":0.001353},{"x":1.06,"y":0.001349},{"x":1.08,"y":0.001348},{"x":1.1,"y":0.001347},{"x":1.12,"y":0.001345},{"x":1.14,"y":0.001344},{"x":1.16,"y":0.001343},{"x":1.18,"y":0.001342},{"x":1.2,"y":0.001341},{"x":1.22,"y":0.001339},{"x":1.24,"y":0.00134},{"x":1.26,"y":0.001336},{"x":1.28,"y":0.001334},{"x":1.3,"y":0.001331},{"x":1.32,"y":0.001329},{"x":1.34,"y":0.001328},{"x":1.36,"y":0.001327},{"x":1.38,"y":0.001326},{"x":1.4,"y":0.001326},{"x":1.42,"y":0.001325},{"x":1.44,"y":0.001326},{"x":1.46,"y":0.001324},{"x":1.48,"y":0.001323},{"x":1.5,"y":0.001322}
]}, "mark": {"type": "line", "color": "#e3131f", "strokeWidth": 1.6}},
{"data": {"values": [{"x": 1.56, "y": 0.001515, "label": "c)"}]}, "mark": {"type": "text", "align": "right", "baseline": "middle", "fontWeight": "bold", "fontSize": 13, "color": "#000"}, "encoding": {"text": {"field": "label"}}}
]
}
], "spacing": 0}
],
"config": {
"font": "DejaVu Sans",
"view": {"stroke": "#111", "strokeWidth": 1.5},
"axis": {"domainColor": "#222", "domainWidth": 2, "tickColor": "#222", "tickWidth": 1.2, "labelFont": "DejaVu Sans", "labelFontSize": 9.5, "labelColor": "#444", "titleFont": "DejaVu Sans", "titleFontSize": 12, "titleFontWeight": "normal", "titleColor": "#444", "grid": false, "labelOverlap": false, "labelFlush": false, "labelBound": false}
}
}
